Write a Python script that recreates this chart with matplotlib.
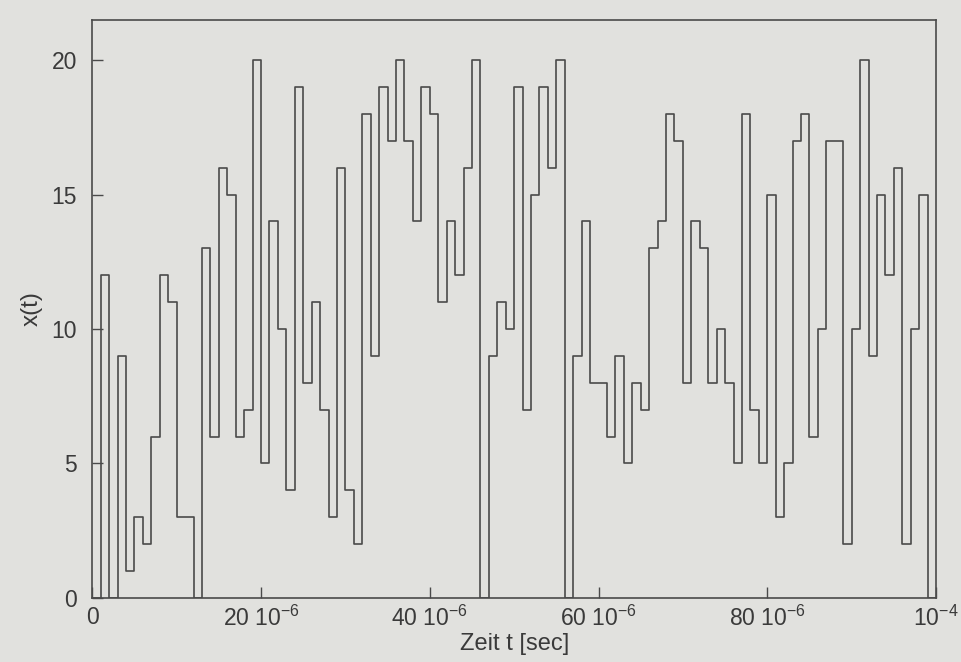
import numpy as np
import matplotlib
matplotlib.use('Agg')
import matplotlib.pyplot as plt

plt.rcParams['font.family'] = ['Liberation Sans', 'DejaVu Sans']
plt.rcParams['mathtext.fontset'] = 'custom'
plt.rcParams['mathtext.rm'] = 'Liberation Sans'

# Zeitraster in Mikrosekunden (Schrittbreite 1 us)
t_us = np.arange(100)
# x(t) pro Schritt
x_vals = [0,
          12, 0, 9, 1, 3, 2, 6, 12, 11, 3,
          3, 0, 13, 6, 16, 15, 6, 7, 20, 5,
          14, 10, 4, 19, 8, 11, 7, 3, 16, 4,
          2, 18, 9, 19, 17, 20, 17, 14, 19, 18,
          11, 14, 12, 16, 20, 0, 9, 11, 10, 19,
          7, 15, 19, 16, 20, 0, 9, 14, 8, 8,
          6, 9, 5, 8, 7, 13, 14, 18, 17, 8,
          14, 13, 8, 10, 8, 5, 18, 7, 5, 15,
          3, 5, 17, 18, 6, 10, 17, 17, 2, 10,
          20, 9, 15, 12, 16, 2, 10, 15,
          0]

xticks = [0, 20e-6, 40e-6, 60e-6, 80e-6, 1e-4]
xticklabels = ['0', r'20 10$^{\mathregular{-6}}$', r'40 10$^{\mathregular{-6}}$',
               r'60 10$^{\mathregular{-6}}$', r'80 10$^{\mathregular{-6}}$',
               r'10$^{\mathregular{-4}}$']
yticks = [0, 5, 10, 15, 20]

bg = '#e1e1de'
ink = '#4a4a4a'
txt = '#3a3a3a'

fig = plt.figure(figsize=(9.61, 6.62), dpi=100, facecolor=bg)
ax = fig.add_axes([0.096, 0.097, 0.878, 0.873], facecolor=bg)

t = np.append(t_us, t_us[-1] + 1) * 1e-6
x = np.append(x_vals, x_vals[-1])
ax.step(t, x, where='post', color=ink, lw=1.2)

ax.set_xlim(0, 1e-4)
ax.set_ylim(0, 21.5)
ax.set_xticks(xticks)
ax.set_xticklabels(xticklabels)
ax.set_yticks(yticks)

ax.tick_params(direction='in', length=8, width=1, color=ink, labelcolor=txt,
               labelsize=16.5)
ax.tick_params(axis='y', pad=11)
ax.tick_params(axis='x', pad=6)
for s in ax.spines.values():
    s.set_color(ink)
    s.set_linewidth(1.2)

ax.set_xlabel('Zeit t [sec]', fontsize=17, color=txt, labelpad=1)
ax.set_ylabel('x(t)', fontsize=17.5, color=txt, labelpad=6)

fig.savefig('out.png', dpi=100, facecolor=bg)
